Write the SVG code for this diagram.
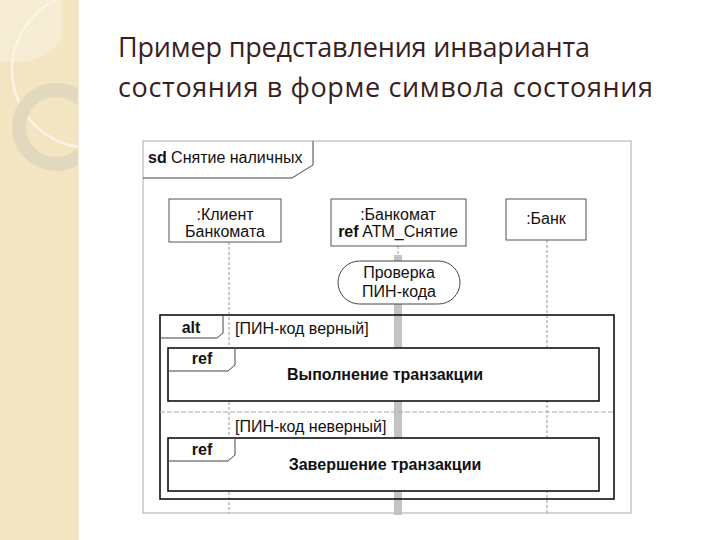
<svg xmlns="http://www.w3.org/2000/svg" width="720" height="540" viewBox="0 0 720 540">
<style>
.t{font-family:"Liberation Sans",Arial,sans-serif;font-size:16px;fill:#111}
.b{font-weight:bold}
.box{fill:#fff;stroke:#555;stroke-width:1}
.thick{fill:none;stroke:#111;stroke-width:1.6}
.tab{fill:none;stroke:#444;stroke-width:1}
.life{stroke:#999;stroke-width:1;stroke-dasharray:3,2;fill:none}
.title{font-family:"Open Sans","Noto Sans",sans-serif;font-size:27px;fill:#3a1e1e}
</style>
<defs>
<clipPath id="strip"><rect x="0" y="0" width="78" height="540"/></clipPath>
</defs>
<rect width="720" height="540" fill="#fff"/>
<g id="background">
<rect x="0" y="0" width="78" height="540" fill="#f3e5c2"/>
<g clip-path="url(#strip)">
<path d="M0,0 H62 V40 A60,60 0 0 1 20,62 H0 Z" fill="#f6ecd4"/>
<circle cx="90" cy="70" r="78" fill="none" stroke="#fbf4e4" stroke-width="2.5"/>
<circle cx="56" cy="127" r="37" fill="none" stroke="#e2d8be" stroke-width="14"/>
</g>
<line x1="78" y1="0" x2="78" y2="540" stroke="#efdcb4" stroke-width="1"/>
</g>
<g id="title">
<text class="title" x="118" y="57" textLength="472" lengthAdjust="spacing">Пример представления инварианта</text>
<text class="title" x="118" y="97" textLength="535" lengthAdjust="spacing">состояния в форме символа состояния</text>
</g>
<g id="frame-sd">
<rect x="143" y="141" width="488" height="372" fill="none" stroke="#aaa" stroke-width="1"/>
<path class="tab" d="M143,178 H292 L313,165 V141" stroke="#888"/>
<text class="t" x="148" y="163"><tspan class="b">sd</tspan> Снятие наличных</text>
</g>
<g id="connectors">
<line class="life" x1="229" y1="242" x2="229" y2="513"/>
<line class="life" x1="398" y1="246" x2="398" y2="513"/>
<line class="life" x1="547" y1="240" x2="547" y2="513"/>
<rect x="394" y="255" width="8" height="260" fill="#c3c3c3"/>
</g>
<g id="client">
<rect class="box" x="169" y="199" width="112" height="43"/>
<text class="t" x="225" y="220" text-anchor="middle">:Клиент</text>
<text class="t" x="225" y="237" text-anchor="middle">Банкомата</text>
</g>
<g id="atm">
<rect class="box" x="331" y="199" width="135" height="47"/>
<text class="t" x="398" y="220" text-anchor="middle">:Банкомат</text>
<text class="t" x="398" y="237" text-anchor="middle"><tspan class="b">ref</tspan> ATM_Снятие</text>
</g>
<g id="bank">
<rect class="box" x="506" y="199" width="80" height="41"/>
<text class="t" x="546" y="224" text-anchor="middle">:Банк</text>
</g>
<g id="invariant">
<rect x="338" y="261" width="122" height="43" rx="21.5" ry="21.5" fill="#fff" stroke="#444" stroke-width="1"/>
<text class="t" x="399" y="278" text-anchor="middle">Проверка</text>
<text class="t" x="399" y="297" text-anchor="middle">ПИН-кода</text>
</g>
<g id="alt">
<rect class="thick" x="160" y="315" width="454" height="184"/>
<path class="tab" d="M160,338 H217 L223,333 V315"/>
<text class="t b" x="191" y="333" text-anchor="middle">alt</text>
<text class="t" x="235" y="334">[ПИН-код верный]</text>
<line x1="160" y1="412" x2="614" y2="412" stroke="#aaa" stroke-width="1" stroke-dasharray="5,2"/>
<text class="t" x="235" y="432">[ПИН-код неверный]</text>
</g>
<g id="ref-execute">
<rect x="168" y="348" width="431" height="53" fill="#fff" stroke="#111" stroke-width="1.6"/>
<path class="tab" d="M168,371 H228 L235,365 V348"/>
<text class="t b" x="202" y="364" text-anchor="middle">ref</text>
<text class="t b" x="385" y="380" text-anchor="middle">Выполнение транзакции</text>
</g>
<g id="ref-finish">
<rect x="168" y="438" width="431" height="53" fill="#fff" stroke="#111" stroke-width="1.6"/>
<path class="tab" d="M168,461 H228 L235,455 V438"/>
<text class="t b" x="202" y="455" text-anchor="middle">ref</text>
<text class="t b" x="385" y="470" text-anchor="middle">Завершение транзакции</text>
</g>
</svg>
